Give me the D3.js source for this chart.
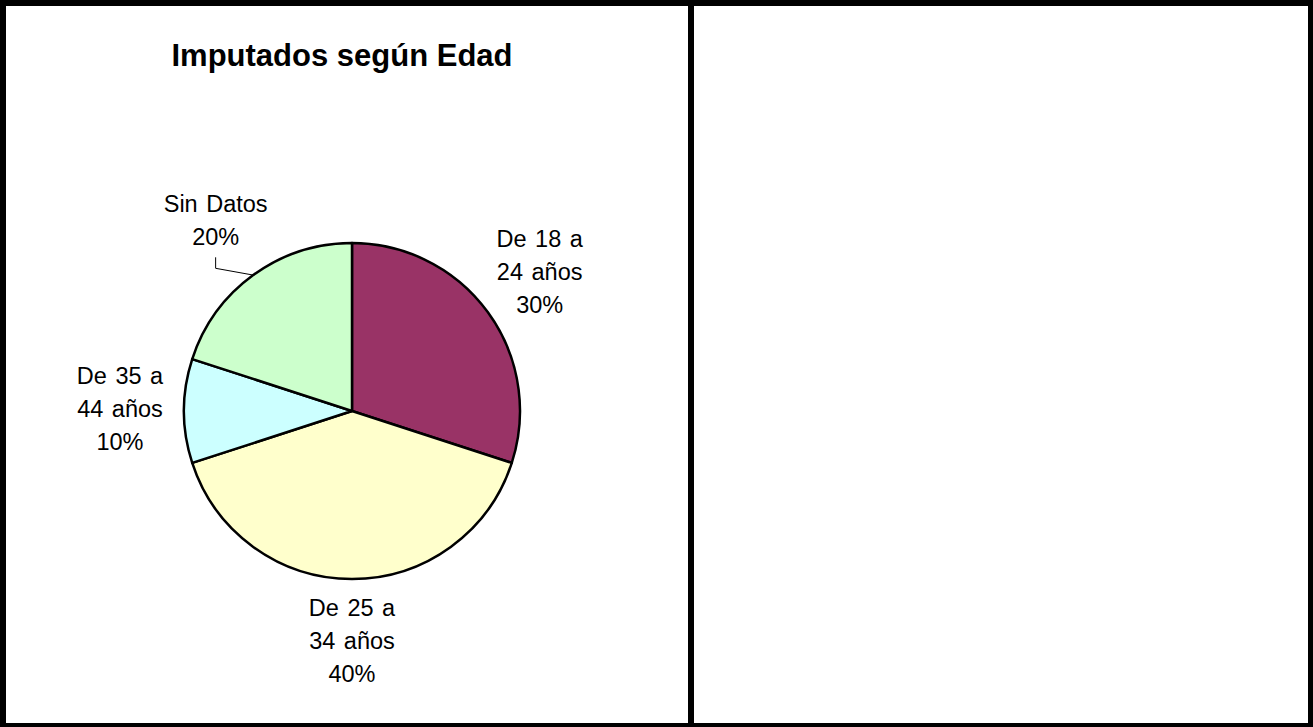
<!DOCTYPE html>
<html>
<head>
<meta charset="utf-8">
<script src="https://cdn.jsdelivr.net/npm/d3@7"></script>
<style>
    body { margin: 0; background: #fff; }
    svg { display: block; }
    text { font-family: "Liberation Sans", Arial, sans-serif; fill: #000; }
</style>
</head>
<body>
<div id="chart"></div>
<script>
// data
var categories = ["De 18 a\n24 años", "De 25 a\n34 años", "De 35 a\n44 años", "Sin Datos"];
var values = [30, 40, 10, 20];
var colors = ["#993366", "#FFFFCC", "#CCFFFF", "#CCFFCC"];
var leaders = [false, false, false, true];
var title = "Imputados según Edad";

var width = 1313,
    height = 727;

var svg = d3.select("#chart").append("svg")
    .attr("width", width)
    .attr("height", height);

// frame: outer border and middle divider
svg.append("rect").attr("x", 0).attr("y", 0).attr("width", width).attr("height", 6).attr("fill", "#000");
svg.append("rect").attr("x", 0).attr("y", 0).attr("width", 6).attr("height", height).attr("fill", "#000");
svg.append("rect").attr("x", 1308).attr("y", 0).attr("width", 5).attr("height", height).attr("fill", "#000");
svg.append("rect").attr("x", 0).attr("y", 723).attr("width", width).attr("height", 4).attr("fill", "#000");
svg.append("rect").attr("x", 688).attr("y", 0).attr("width", 6).attr("height", height).attr("fill", "#000");

svg.append("text")
    .attr("x", 342)
    .attr("y", 66)
    .attr("text-anchor", "middle")
    .style("font-size", "31px")
    .style("font-weight", "bold")
    .text(title);

var cx = 352, cy = 411, radius = 168;
var labelRadius = 232;
var lineHeight = 33;

var g = svg.append("g").attr("transform", "translate(" + cx + "," + cy + ")");

var pie = d3.pie().sort(null).value(function (d) { return d; });
var arcs = pie(values);
var total = d3.sum(values);

var arc = d3.arc().innerRadius(0).outerRadius(radius);
var edgeArc = d3.arc().innerRadius(radius).outerRadius(radius);
var labelArc = d3.arc().innerRadius(labelRadius).outerRadius(labelRadius);

g.selectAll(".slice")
    .data(arcs)
    .enter()
    .append("path")
    .attr("class", "slice")
    .attr("d", arc)
    .attr("fill", function (d, i) { return colors[i]; })
    .attr("stroke", "#000")
    .attr("stroke-width", 2.5)
    .attr("stroke-linejoin", "round");

arcs.forEach(function (d, i) {
    var pos = labelArc.centroid(d);
    pos[1] -= 3;
    var lines = categories[i].split("\n");
    lines.push(Math.round(d.value / total * 100) + "%");
    var n = lines.length;

    var t = g.append("text")
        .attr("text-anchor", "middle")
        .style("font-size", "23.5px")
        .style("word-spacing", "2px");
    lines.forEach(function (line, j) {
        t.append("tspan")
            .attr("x", pos[0])
            .attr("y", pos[1] + (j - (n - 1) / 2) * lineHeight + 8.5)
            .text(line);
    });

    if (leaders[i]) {
        var edge = edgeArc.centroid(d);
        var lastBase = pos[1] + ((n - 1) / 2) * lineHeight + 8.5;
        g.append("polyline")
            .attr("points", [
                [pos[0], lastBase + 12],
                [pos[0], lastBase + 23],
                edge
            ].map(function (p) { return p.join(","); }).join(" "))
            .attr("fill", "none")
            .attr("stroke", "#000")
            .attr("stroke-width", 1);
    }
});
</script>
</body>
</html>
